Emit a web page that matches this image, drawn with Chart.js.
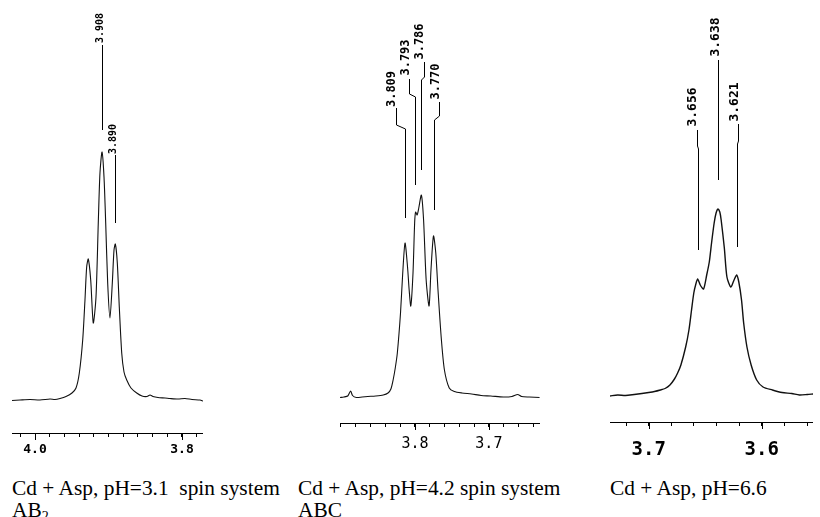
<!DOCTYPE html>
<html>
<head>
<meta charset="utf-8">
<script src="https://cdn.jsdelivr.net/npm/chart.js@4.4.0/dist/chart.umd.min.js"></script>
<style>
html, body { margin: 0; background: #fff; }
body { width: 820px; height: 517px; position: relative; overflow: hidden; }
.panel { position: absolute; top: 0; }
.caption { position: absolute; font: 21.4px "Liberation Serif", "Times New Roman", serif; line-height: 22px; color: #000; white-space: pre; }
.caption sub { font-size: 14px; line-height: 0; vertical-align: -4px; }
</style>
</head>
<body>
<div class="panel" style="left:12px"><canvas id="c1" width="191" height="463"></canvas></div>
<div class="panel" style="left:333px"><canvas id="c2" width="208" height="461"></canvas></div>
<div class="panel" style="left:610px"><canvas id="c3" width="210" height="474"></canvas></div>
<div class="caption" style="left:12px;top:477px">Cd + Asp, pH=3.1  spin system<br>AB<sub>2</sub></div>
<div class="caption" style="left:298px;top:477px">Cd + Asp, pH=4.2 spin system<br>ABC</div>
<div class="caption" style="left:610px;top:477px">Cd + Asp, pH=6.6</div>
<script>
// spectrum 1: Cd + Asp, pH=3.1 (ppm / intensity)
const ppm1 = [4.0313, 4.0204, 4.0068, 3.9932, 3.9796, 3.9728, 3.9660, 3.9578, 3.9497, 3.9442,
    3.9397, 3.9351, 3.9320, 3.9297, 3.9275, 3.9242, 3.9207, 3.9170, 3.9139, 3.9116,
    3.9088, 3.9061, 3.9038, 3.9011, 3.8980, 3.8948, 3.8925, 3.8907, 3.8880, 3.8853,
    3.8820, 3.8789, 3.8752, 3.8694, 3.8616, 3.8544, 3.8476, 3.8435, 3.8395, 3.8327,
    3.8231, 3.8163, 3.8054, 3.7959, 3.7864, 3.7755, 3.7714];
const int1 = [-0.5, 0, 0.5, 0, 1, 0.5, 1.5, 3.5, 7, 12,
    27, 60, 100, 133, 141, 120, 77, 103, 177, 227,
    248, 223, 177, 117, 82, 117, 150, 156, 137, 93,
    47, 28, 20, 12, 7, 4, 3.5, 5, 3.5, 2.5,
    2, 1.5, 1, 1.5, 0.5, 0, -1];
const tickLabels1 = [4.0, 3.8];

// spectrum 2: Cd + Asp, pH=4.2
const ppm2 = [3.9013, 3.8961, 3.8909, 3.8870, 3.8844, 3.8792, 3.8714, 3.8636, 3.8532, 3.8429,
    3.8364, 3.8325, 3.8295, 3.8266, 3.8238, 3.8195, 3.8165, 3.8134, 3.8100, 3.8078,
    3.8056, 3.8026, 3.8004, 3.7991, 3.7970, 3.7948, 3.7913, 3.7883, 3.7848, 3.7809,
    3.7783, 3.7749, 3.7718, 3.7688, 3.7645, 3.7601, 3.7536, 3.7468, 3.7364, 3.7234,
    3.7104, 3.6974, 3.6805, 3.6688, 3.6610, 3.6558, 3.6455, 3.6312];
const int2 = [0.5, 1, 2, 7, 2.5, 0.5, 1, 1.5, 2, 3,
    5, 9, 18, 30, 45, 85, 125, 155, 131, 108,
    92, 125, 175, 186, 183, 190, 203, 178, 118, 92,
    128, 162, 145, 108, 61, 28, 10, 6.5, 5, 4,
    2.5, 2, 1, 1.5, 3.5, 1.5, 1, 0.5];
const tickLabels2 = [3.8, 3.7];

// spectrum 3: Cd + Asp, pH=6.6
const ppm3 = [3.7342, 3.7274, 3.7205, 3.7128, 3.7060, 3.7000, 3.6949, 3.6897, 3.6855, 3.6812,
    3.6772, 3.6744, 3.6715, 3.6673, 3.6644, 3.6621, 3.6601, 3.6585, 3.6567, 3.6544,
    3.6515, 3.6487, 3.6464, 3.6444, 3.6421, 3.6404, 3.6387, 3.6371, 3.6359, 3.6331,
    3.6308, 3.6274, 3.6245, 3.6222, 3.6203, 3.6179, 3.6160, 3.6131, 3.6094, 3.6045,
    3.5989, 3.5906, 3.5821, 3.5735, 3.5667, 3.5597, 3.5547];
const int3 = [0, 1, 0.5, 1.5, 2.5, 3.5, 4.5, 6, 7.5, 11,
    17, 23, 31, 49, 66, 86, 103, 111, 117, 111,
    107, 121, 134, 153, 173, 183, 187, 184, 176, 148,
    119, 109, 116, 121, 114, 96, 73, 49, 31, 16,
    9, 6, 3.5, 2.5, 1, 1.5, 2];
const tickLabels3 = [3.7, 3.6];

// peak labels printed above the peaks
const peaks1 = ['3.908', '3.890'];
const peaks2 = ['3.809', '3.793', '3.786', '3.770'];
const peaks3 = ['3.656', '3.638', '3.621'];

// where each label text sits and how its leader line runs (ppm, intensity)
const leaders1 = [
    { tx: 3.9109, ty: 372, path: [[3.9088, 355], [3.9088, 270]] },
    { tx: 3.8939, ty: 261, path: [[3.8905, 245], [3.8905, 177]] },
];
const leaders2 = [
    { tx: 3.8312, ty: 309, path: [[3.8260, 290], [3.8260, 273], [3.8134, 269], [3.8134, 180]] },
    { tx: 3.8117, ty: 340.5, path: [[3.8078, 319], [3.8078, 304], [3.8000, 301], [3.8000, 213]] },
    { tx: 3.7929, ty: 356.5, path: [[3.7883, 336], [3.7883, 321], [3.7922, 318], [3.7922, 228]] },
    { tx: 3.7714, ty: 316.5, path: [[3.7669, 296], [3.7669, 282], [3.7747, 278], [3.7747, 188]] },
];
const leaders3 = [
    { tx: 3.6611, ty: 289, path: [[3.6577, 266], [3.6577, 250], [3.6564, 247], [3.6564, 146]] },
    { tx: 3.6410, ty: 359, path: [[3.6387, 336], [3.6387, 216]] },
    { tx: 3.6244, ty: 294, path: [[3.6214, 272], [3.6214, 255], [3.6222, 252], [3.6222, 149]] },
];

const isLabelTick = (v, list) => list.some(t => Math.abs(t - v) < 1e-6); // only major ticks get text

const strokePath = (ctx, x, y, path) => { // polyline through the chart scales
    ctx.beginPath();
    path.forEach(([px, py], k) => {
        const X = Math.round(x.getPixelForValue(px)) + 0.5;
        const Y = y.getPixelForValue(py);
        k ? ctx.lineTo(X, Y) : ctx.moveTo(X, Y);
    });
    ctx.stroke();
};

const peakPlugin = (labels, leaders, tickLabels, font) => ({ // draws peak labels and long major ticks
    id: 'peaks',
    afterDatasetsDraw(chart) {
        const { ctx, scales: { x, y }, chartArea } = chart;
        ctx.save();
        ctx.strokeStyle = '#000';
        ctx.fillStyle = '#000';
        ctx.lineWidth = 1;
        leaders.forEach((m, i) => {
            strokePath(ctx, x, y, m.path);
            ctx.save(); // text reads bottom to top
            ctx.translate(x.getPixelForValue(m.tx), y.getPixelForValue(m.ty));
            ctx.rotate(-Math.PI / 2);
            ctx.font = font;
            ctx.textAlign = 'center';
            ctx.textBaseline = 'middle';
            ctx.fillText(labels[i], 0, 0);
            ctx.restore();
        });
        tickLabels.forEach(v => { // longer tick under labelled values
            const X = Math.round(x.getPixelForValue(v)) + 0.5;
            ctx.beginPath();
            ctx.moveTo(X, chartArea.bottom);
            ctx.lineTo(X, chartArea.bottom + 7);
            ctx.stroke();
        });
        ctx.restore();
    },
});

const makeChart = (id, ppm, inten, o) => new Chart(document.getElementById(id), {
    type: 'line',
    data: {
        datasets: [{
            data: ppm.map((v, i) => ({ x: v, y: inten[i] })),
            borderColor: '#111',
            borderWidth: o.lw,
            pointRadius: 0,
            tension: 0.25,
            fill: false,
        }],
    },
    options: {
        responsive: false,
        animation: false,
        layout: { padding: 0 },
        plugins: { legend: { display: false }, tooltip: { enabled: false } },
        scales: {
            x: {
                type: 'linear',
                reverse: true,
                min: ppm[ppm.length - 1],
                max: ppm[0],
                border: { display: true, color: '#000', width: 1 },
                grid: { display: true, drawOnChartArea: false, drawTicks: true, tickLength: 4, color: '#000' },
                ticks: {
                    stepSize: 0.02,
                    includeBounds: false,
                    autoSkip: false,
                    maxRotation: 0,
                    padding: o.pad,
                    color: '#000',
                    font: o.tickFont,
                    callback: (v) => isLabelTick(v, o.tickLabels) ? v.toFixed(1) : '',
                },
            },
            y: { display: false, min: o.ymin, max: o.ymax },
        },
    },
    plugins: [peakPlugin(o.labels, o.leaders, o.tickLabels, o.peakFont)],
});

makeChart('c1', ppm1, int1, {
    ymin: -33, ymax: 400, pad: 5, lw: 1.1, tickLabels: tickLabels1,
    tickFont: { family: 'DejaVu Sans Mono', size: 13, weight: 'bold', lineHeight: '16px' },
    labels: peaks1, leaders: leaders1, peakFont: 'bold 10px "DejaVu Sans Mono"',
});
makeChart('c2', ppm2, int2, {
    ymin: -25, ymax: 398, pad: 8, lw: 1.1, tickLabels: tickLabels2,
    tickFont: { family: 'DejaVu Sans Mono', size: 15, lineHeight: '18px' },
    labels: peaks2, leaders: leaders2, peakFont: 'bold 12px "DejaVu Sans Mono"',
});
makeChart('c3', ppm3, int3, {
    ymin: -26, ymax: 396, pad: 13, lw: 1.4, tickLabels: tickLabels3,
    tickFont: { family: 'DejaVu Sans Mono', size: 19, weight: 'bold', lineHeight: '22px' },
    labels: peaks3, leaders: leaders3, peakFont: 'bold 13px "DejaVu Sans Mono"',
});
</script>
</body>
</html>
